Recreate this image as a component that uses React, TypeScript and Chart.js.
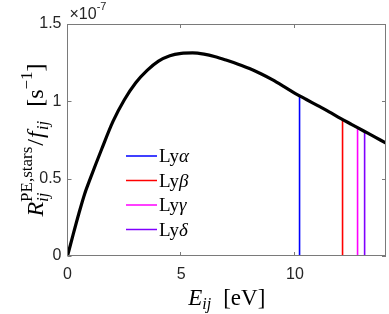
import React, { useEffect, useRef } from "react";
import { Chart, registerables } from "chart.js";

Chart.register(...registerables);

// Photo-electric rate curve, values in units of 1e-7 s^-1
const ENERGY = [0, 0.25, 0.5, 0.75, 1, 1.5, 2, 2.5, 3, 3.5, 4, 4.5, 5, 5.5, 6, 6.5, 7, 7.5, 8, 8.5, 9, 9.5, 10, 10.5, 11, 11.5, 12, 12.5, 13, 13.5, 14];
const RATE = [0, 0.14, 0.275, 0.4, 0.5, 0.69, 0.87, 1.01, 1.12, 1.2, 1.26, 1.295, 1.31, 1.313, 1.305, 1.288, 1.265, 1.24, 1.212, 1.178, 1.14, 1.097, 1.052, 1.012, 0.972, 0.932, 0.89, 0.85, 0.81, 0.77, 0.73];

// Lyman lines
const LINE_NAMES = ["α", "β", "γ", "δ"];
const LINE_ENERGY = [10.2, 12.09, 12.75, 13.06];
const LINE_TOP = [1.035, 0.88, 0.826, 0.802];
const LINE_COLORS = ["#0000ff", "#ff0000", "#ff00ff", "#8000ff"];

const X_TICKS = [0, 5, 10];
const Y_TICKS = [0, 0.5, 1, 1.5];

const SERIF = '"Liberation Serif", "DejaVu Serif", serif';
const SANS = '"Liberation Sans", Arial, sans-serif';

type Seg = { t: string; size: number; italic?: boolean; dy?: number; group?: string; gap?: number };

function drawSegs(ctx: CanvasRenderingContext2D, segs: Seg[], cx: number, cy: number) {
  const font = (s: Seg) => `${s.italic ? "italic " : ""}${s.size}px ${SERIF}`;
  let total = 0;
  const pos: number[] = [];
  let i = 0;
  while (i < segs.length) {
    const s = segs[i];
    if (s.group) {
      let w = 0;
      let j = i;
      while (j < segs.length && segs[j].group === s.group) {
        ctx.font = font(segs[j]);
        w = Math.max(w, ctx.measureText(segs[j].t).width);
        pos[j] = total;
        j++;
      }
      total += w;
      i = j;
    } else {
      total += s.gap || 0;
      ctx.font = font(s);
      pos[i] = total;
      total += ctx.measureText(s.t).width;
      i++;
    }
  }
  const start = cx - total / 2;
  segs.forEach((s, k) => {
    ctx.font = font(s);
    ctx.fillText(s.t, start + pos[k], cy + (s.dy || 0));
  });
}

const decorPlugin = {
  id: "decor",
  afterDraw(chart: any) {
    const { ctx, chartArea } = chart;
    const { left, right, top, bottom } = chartArea;
    const xs = chart.scales.x;
    const ys = chart.scales.y;
    ctx.save();
    ctx.strokeStyle = "#7a7a7a";
    ctx.lineWidth = 1;
    ctx.strokeRect(Math.round(left) - 0.5, Math.round(top) + 0.5, Math.round(right) - Math.round(left), Math.round(bottom) - Math.round(top) - 1);
    ctx.beginPath();
    X_TICKS.forEach((v) => {
      const p = Math.round(xs.getPixelForValue(v)) - 0.5;
      ctx.moveTo(p, bottom);
      ctx.lineTo(p, bottom - 4);
      ctx.moveTo(p, top);
      ctx.lineTo(p, top + 4);
    });
    Y_TICKS.forEach((v) => {
      const p = Math.round(ys.getPixelForValue(v)) + 0.5;
      ctx.moveTo(left, p);
      ctx.lineTo(left + 4, p);
      ctx.moveTo(right, p);
      ctx.lineTo(right - 4, p);
    });
    ctx.stroke();

    ctx.fillStyle = "#262626";
    ctx.textBaseline = "alphabetic";
    ctx.textAlign = "left";
    ctx.font = `16px ${SANS}`;
    ctx.fillText("×10", left + 2, top - 5);
    const w = ctx.measureText("×10").width;
    ctx.font = `11px ${SANS}`;
    ctx.fillText("-7", left + 2 + w, top - 14);

    ctx.fillStyle = "#000";
    // x title
    drawSegs(
      ctx,
      [
        { t: "E", size: 23, italic: true },
        { t: "ij", size: 16, italic: true, dy: 4 },
        { t: "[eV]", size: 23, gap: 12 },
      ],
      (left + right) / 2,
      305
    );

    // y title
    ctx.save();
    ctx.translate(43, (top + bottom) / 2);
    ctx.rotate(-Math.PI / 2);
    drawSegs(
      ctx,
      [
        { t: "R", size: 24, italic: true },
        { t: "PE,stars", size: 17, dy: -11, group: "a" },
        { t: "ij", size: 17, italic: true, dy: 5, group: "a" },
        { t: "/", size: 24, gap: 1 },
        { t: "f", size: 24, italic: true, gap: 1 },
        { t: "ij", size: 17, italic: true, dy: 5, gap: 1 },
        { t: "[s", size: 24, gap: 14 },
        { t: "−1", size: 17, dy: -11 },
        { t: "]", size: 24 },
      ],
      0,
      0
    );
    ctx.restore();

    // legend
    const lx = 126;
    const ly0 = 156;
    const dy = 24.5;
    LINE_NAMES.forEach((n, k) => {
      const y = ly0 + k * dy;
      ctx.strokeStyle = LINE_COLORS[k];
      ctx.lineWidth = 1.5;
      ctx.beginPath();
      ctx.moveTo(lx, y);
      ctx.lineTo(lx + 31, y);
      ctx.stroke();
      ctx.fillStyle = "#000";
      ctx.font = `19px ${SERIF}`;
      ctx.fillText("Ly", lx + 33, y + 6);
      const wl = ctx.measureText("Ly").width;
      ctx.font = `italic 19px ${SERIF}`;
      ctx.fillText(n, lx + 33 + wl, y + 6);
    });
    ctx.restore();
  },
};

export default function App() {
  const ref = useRef<HTMLCanvasElement>(null);
  useEffect(() => {
    let chart: Chart | null = null;
    let cancelled = false;
    const fonts = [
      `20px "Liberation Serif"`,
      `italic 20px "Liberation Serif"`,
      `16px "Liberation Sans"`,
    ];
    const loads = (document as any).fonts
      ? Promise.all(fonts.map((f) => (document as any).fonts.load(f, "LyαβEf[]")).concat([(document as any).fonts.ready]))
      : Promise.resolve();
    loads
      .catch(() => {})
      .then(() => {
        if (cancelled || !ref.current) return;
        const datasets: any[] = [
          {
            label: "curve",
            data: ENERGY.map((e, i) => ({ x: e, y: RATE[i] })),
            borderColor: "#000",
            borderWidth: 3.2,
            pointRadius: 0,
            cubicInterpolationMode: "monotone",
            fill: false,
          },
          ...LINE_NAMES.map((n, k) => ({
            label: "Ly" + n,
            data: [
              { x: LINE_ENERGY[k], y: 0 },
              { x: LINE_ENERGY[k], y: LINE_TOP[k] },
            ],
            borderColor: LINE_COLORS[k],
            borderWidth: 1.6,
            pointRadius: 0,
            fill: false,
          })),
        ];
        chart = new Chart(ref.current, {
          type: "line",
          data: { datasets },
          options: {
            animation: false,
            responsive: false,
            events: [],
            layout: { padding: { top: 24, right: 3, left: 0, bottom: 0 } },
            plugins: { legend: { display: false }, tooltip: { enabled: false } },
            scales: {
              x: {
                type: "linear",
                min: 0,
                max: 14,
                grid: { display: false, drawTicks: false },
                border: { display: false },
                afterBuildTicks: (s: any) => {
                  s.ticks = X_TICKS.map((v) => ({ value: v }));
                },
                afterFit: (s: any) => {
                  s.height = 58;
                },
                ticks: {
                  padding: 9,
                  color: "#262626",
                  font: { family: SANS, size: 16 },
                  maxRotation: 0,
                  callback: (v: any) => String(v),
                },
              },
              y: {
                type: "linear",
                min: 0,
                max: 1.5,
                grid: { display: false, drawTicks: false },
                border: { display: false },
                afterBuildTicks: (s: any) => {
                  s.ticks = Y_TICKS.map((v) => ({ value: v }));
                },
                afterFit: (s: any) => {
                  s.width = 67.5;
                },
                ticks: {
                  padding: 6,
                  color: "#262626",
                  font: { family: SANS, size: 16 },
                  callback: (v: any) => String(v),
                },
              },
            },
          },
          plugins: [decorPlugin],
        });
      });
    return () => {
      cancelled = true;
      if (chart) chart.destroy();
    };
  }, []);
  return (
    <div style={{ position: "absolute", left: 0, top: 0, width: 389, height: 314, background: "#fff" }}>
      <canvas ref={ref} width={389} height={314} style={{ display: "block" }} />
    </div>
  );
}
